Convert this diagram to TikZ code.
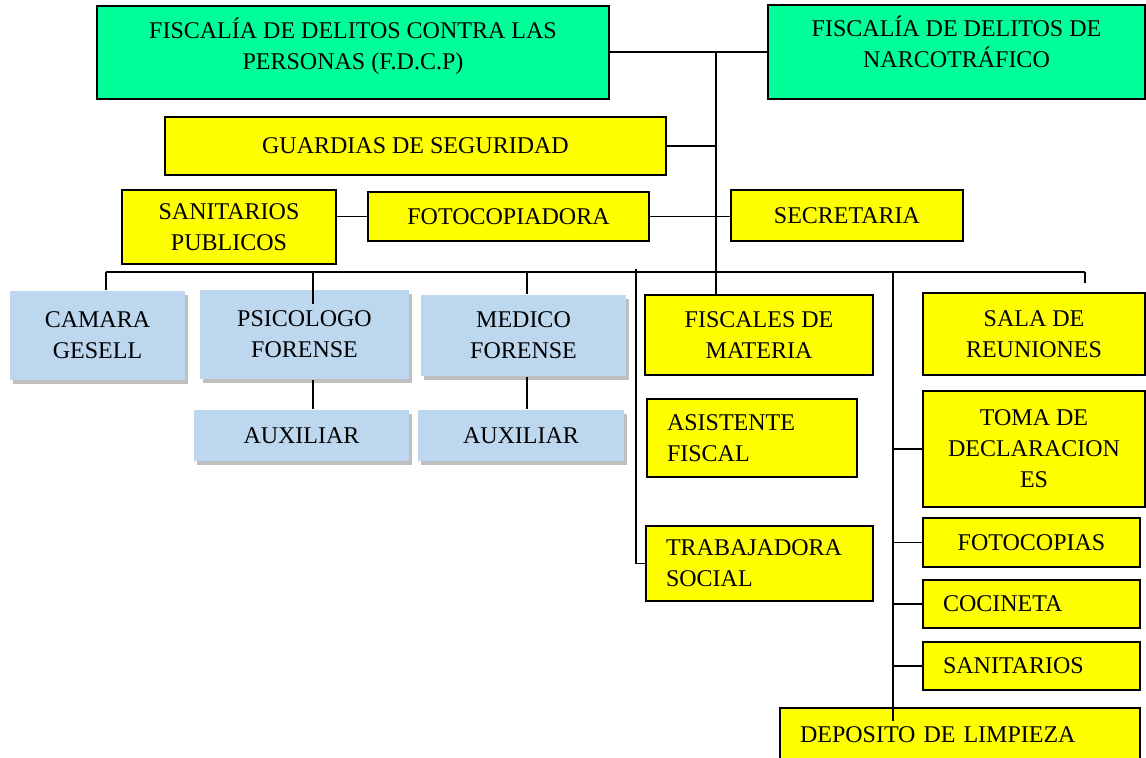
\documentclass[tikz,border=0pt]{standalone}
\usepackage{fontspec}
\setmainfont{Liberation Serif}
\usepackage{xcolor}
\usepackage{tikz}
\usetikzlibrary{shadows}

\definecolor{greenfill}{HTML}{00FF99}
\definecolor{yellowfill}{HTML}{FFFF00}
\definecolor{bluefill}{HTML}{BDD7EE}

\begin{document}
\begin{tikzpicture}[x=0.5pt, y=-0.5pt, line width=0.75pt,
    font=\fontsize{12}{15.5}\selectfont,
    greenbox/.style={draw, rectangle, fill=greenfill, align=center},
    yellowbox/.style={draw, rectangle, fill=yellowfill, align=center},
    bluebox/.style={rectangle, fill=bluefill, align=center,
        drop shadow={shadow xshift=1.5pt, shadow yshift=-2pt, fill=black!50, opacity=0.5}},
    lefttext/.style={align=left, inner xsep=10pt}]
    \useasboundingbox (0,0) rectangle (1146,757);

    % Top: the two fiscalias
    \node[greenbox, minimum width=256pt, minimum height=46.5pt, text depth=9pt] (FDCP) at (353,52.5) {FISCALÍA DE DELITOS CONTRA LAS\\PERSONAS (F.D.C.P)};
    \node[greenbox, minimum width=188.5pt, minimum height=47pt, text depth=10pt] (Narco) at (956.5,52) {FISCALÍA DE DELITOS DE\\NARCOTRÁFICO};

    % Middle: shared services
    \node[yellowbox, minimum width=250.5pt, minimum height=29pt] (Guardias) at (415.5,146) {GUARDIAS DE SEGURIDAD};
    \node[yellowbox, minimum width=107pt, minimum height=37pt] (SanPub) at (229,227) {SANITARIOS\\PUBLICOS};
    \node[yellowbox, minimum width=140.5pt, minimum height=24.5pt] (Fotocop) at (508.5,216.5) {FOTOCOPIADORA};
    \node[yellowbox, minimum width=116pt, minimum height=25.5pt] (Secret) at (847,215.5) {SECRETARIA};

    % Left: forensic units
    \node[bluebox, minimum width=87.5pt, minimum height=44.5pt] (Camara) at (97.5,335.5) {CAMARA\\GESELL};
    \node[bluebox, minimum width=104.5pt, minimum height=44.5pt] (Psico) at (304.5,334.5) {PSICOLOGO\\FORENSE};
    \node[bluebox, minimum width=102.5pt, minimum height=40.5pt] (Medico) at (523.5,335.5) {MEDICO\\FORENSE};
    \node[bluebox, minimum width=107.5pt, minimum height=25.5pt] (AuxPsico) at (301.5,435.5) {AUXILIAR};
    \node[bluebox, minimum width=103pt, minimum height=25.5pt] (AuxMedico) at (521,435.5) {AUXILIAR};

    % Right: fiscal staff and rooms
    \node[yellowbox, minimum width=114pt, minimum height=40pt] (Fiscales) at (759,335) {FISCALES DE\\MATERIA};
    \node[yellowbox, lefttext, text width=85pt, minimum height=39pt] (Asistente) at (752,438) {ASISTENTE\\FISCAL};
    \node[yellowbox, lefttext, text width=93.5pt, minimum height=37.5pt] (Trabaj) at (759.5,563.5) {TRABAJADORA\\SOCIAL};
    \node[yellowbox, minimum width=111pt, minimum height=41pt] (Sala) at (1034,334) {SALA DE\\REUNIONES};
    \node[yellowbox, minimum width=111pt, minimum height=58pt] (Toma) at (1034,449) {TOMA DE\\DECLARACION\\ES};
    \node[yellowbox, minimum width=108.5pt, minimum height=24.5pt] (Fotocopias) at (1031.5,542.5) {FOTOCOPIAS};
    \node[yellowbox, lefttext, text width=88.5pt, minimum height=24pt] (Cocineta) at (1031.5,604) {COCINETA};
    \node[yellowbox, lefttext, text width=88.5pt, minimum height=24pt] (Sanit) at (1031.5,666) {SANITARIOS};
    \node[yellowbox, lefttext, text width=160pt, minimum height=27pt] (Deposito) at (960,735) {DEPOSITO DE LIMPIEZA};

    % junction points
    \coordinate (jtop) at (716,52);
    \coordinate (barL) at (106,272);
    \coordinate (barR) at (1085,272);
    \coordinate (jpsi) at (313,272);
    \coordinate (jmed) at (527,272);
    \coordinate (jtrab) at (636,269);
    \coordinate (jright) at (893,272);

    % connectors
    \draw (jtop -| FDCP.east) -- (jtop -| Narco.west);
    \draw (jtop) -- (jtop |- Fiscales.north);
    \draw (Guardias.east) -- (Guardias.east -| jtop);
    \draw (Fotocop.west -| SanPub.east) -- (Fotocop.west);
    \draw (Fotocop.east) -- (Fotocop.east -| Secret.west);
    \draw (barL) -- (barR);
    \draw (barL) -- (barL |- Camara.north);
    \draw (jpsi) -- ++(0,32);
    \draw (Psico.south -| jpsi) -- (AuxPsico.north -| jpsi);
    \draw (jmed) -- (jmed |- Medico.north);
    \draw (Medico.south -| jmed) -- (AuxMedico.north -| jmed);
    \draw (jtrab) |- (Trabaj.west);
    \draw (jright) -- ([yshift=-7pt]Deposito.north -| jright);
    \draw (Toma.west -| jright) -- (Toma.west);
    \draw (Fotocopias.west -| jright) -- (Fotocopias.west);
    \draw (Cocineta.west -| jright) -- (Cocineta.west);
    \draw (Sanit.west -| jright) -- (Sanit.west);
    \draw (barR) -- ++(0,11);
\end{tikzpicture}
\end{document}
